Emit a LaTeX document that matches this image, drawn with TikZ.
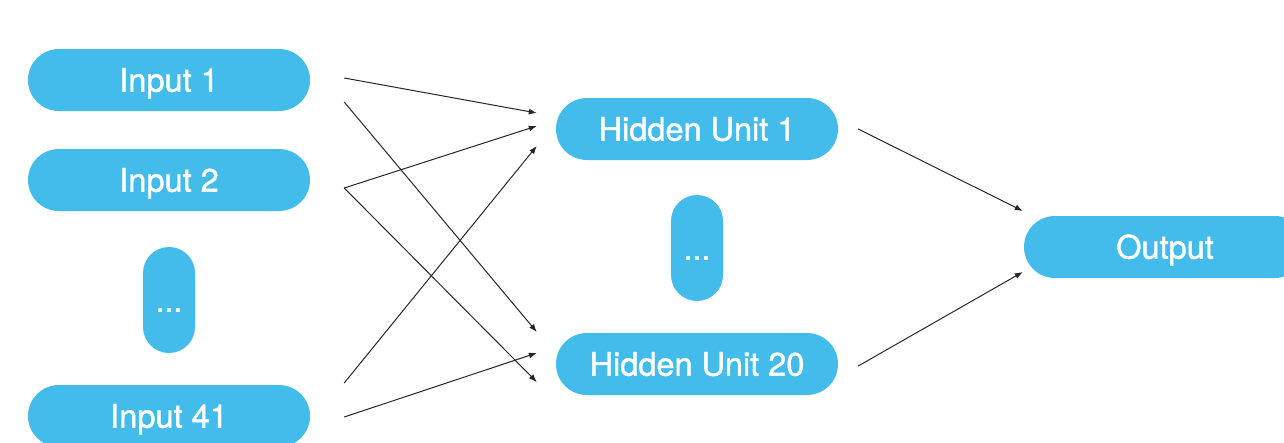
\documentclass[tikz,border=0pt]{standalone}
\usepackage{fontspec}
\newfontfamily\unitfont[FakeBold=1.2]{TeX Gyre Heros}
\usetikzlibrary{calc,arrows.meta}
\definecolor{unitblue}{RGB}{68,188,235}

\begin{document}
\begin{tikzpicture}[x=1pt,y=-1pt,
  unit/.style={fill=unitblue,text=white,rounded corners=31pt,
    minimum width=282pt,minimum height=62pt,inner sep=0pt,
    text height=23.3pt,text depth=0pt,font=\unitfont\fontsize{32.5}{39}\selectfont},
  gap/.style={unit,minimum width=52pt,minimum height=106pt,rounded corners=26pt},
  link/.style={line width=1pt,draw=black!85,-{Latex[length=8pt,width=6pt]}}]
  \useasboundingbox (0,0) rectangle (1284,442);
  \clip (0,0) rectangle (1284,442);

  % inputs
  \node[unit] (in1) at (169,80) {Input 1};
  \node[unit] (in2) at (169,180) {Input 2};
  \node[gap] (indots) at (169,300) {...};
  \node[unit] (in41) at (169,416) {Input 41};

  % hidden layer
  \node[unit] (hu1) at (697,129) {Hidden Unit 1};
  \node[gap] (hudots) at (697,248) {...};
  \node[unit] (hu20) at (697,364) {Hidden Unit 20};

  % output
  \node[unit] (out) at (1165,247) {Output};

  \draw[link] ($(in1.east)+(34,-2)$) -- ($(hu1.west)+(-19,-16)$);
  \draw[link] ($(in1.east)+(34,22)$) -- ($(hu20.west)+(-19,-32)$);
  \draw[link] ($(in2.east)+(34,8)$) -- ($(hu1.west)+(-19,-3)$);
  \draw[link] ($(in2.east)+(34,8)$) -- ($(hu20.west)+(-19,18)$);
  \draw[link] ($(in41.east)+(34,-33)$) -- ($(hu1.west)+(-19,17)$);
  \draw[link] ($(in41.east)+(34,1)$) -- ($(hu20.west)+(-19,-11)$);

  \draw[link] ($(hu1.east)+(20,0)$) -- ($(out.west)+(-1,-36)$);
  \draw[link] ($(hu20.east)+(20,2)$) -- ($(out.west)+(-1,25)$);
\end{tikzpicture}
\end{document}
